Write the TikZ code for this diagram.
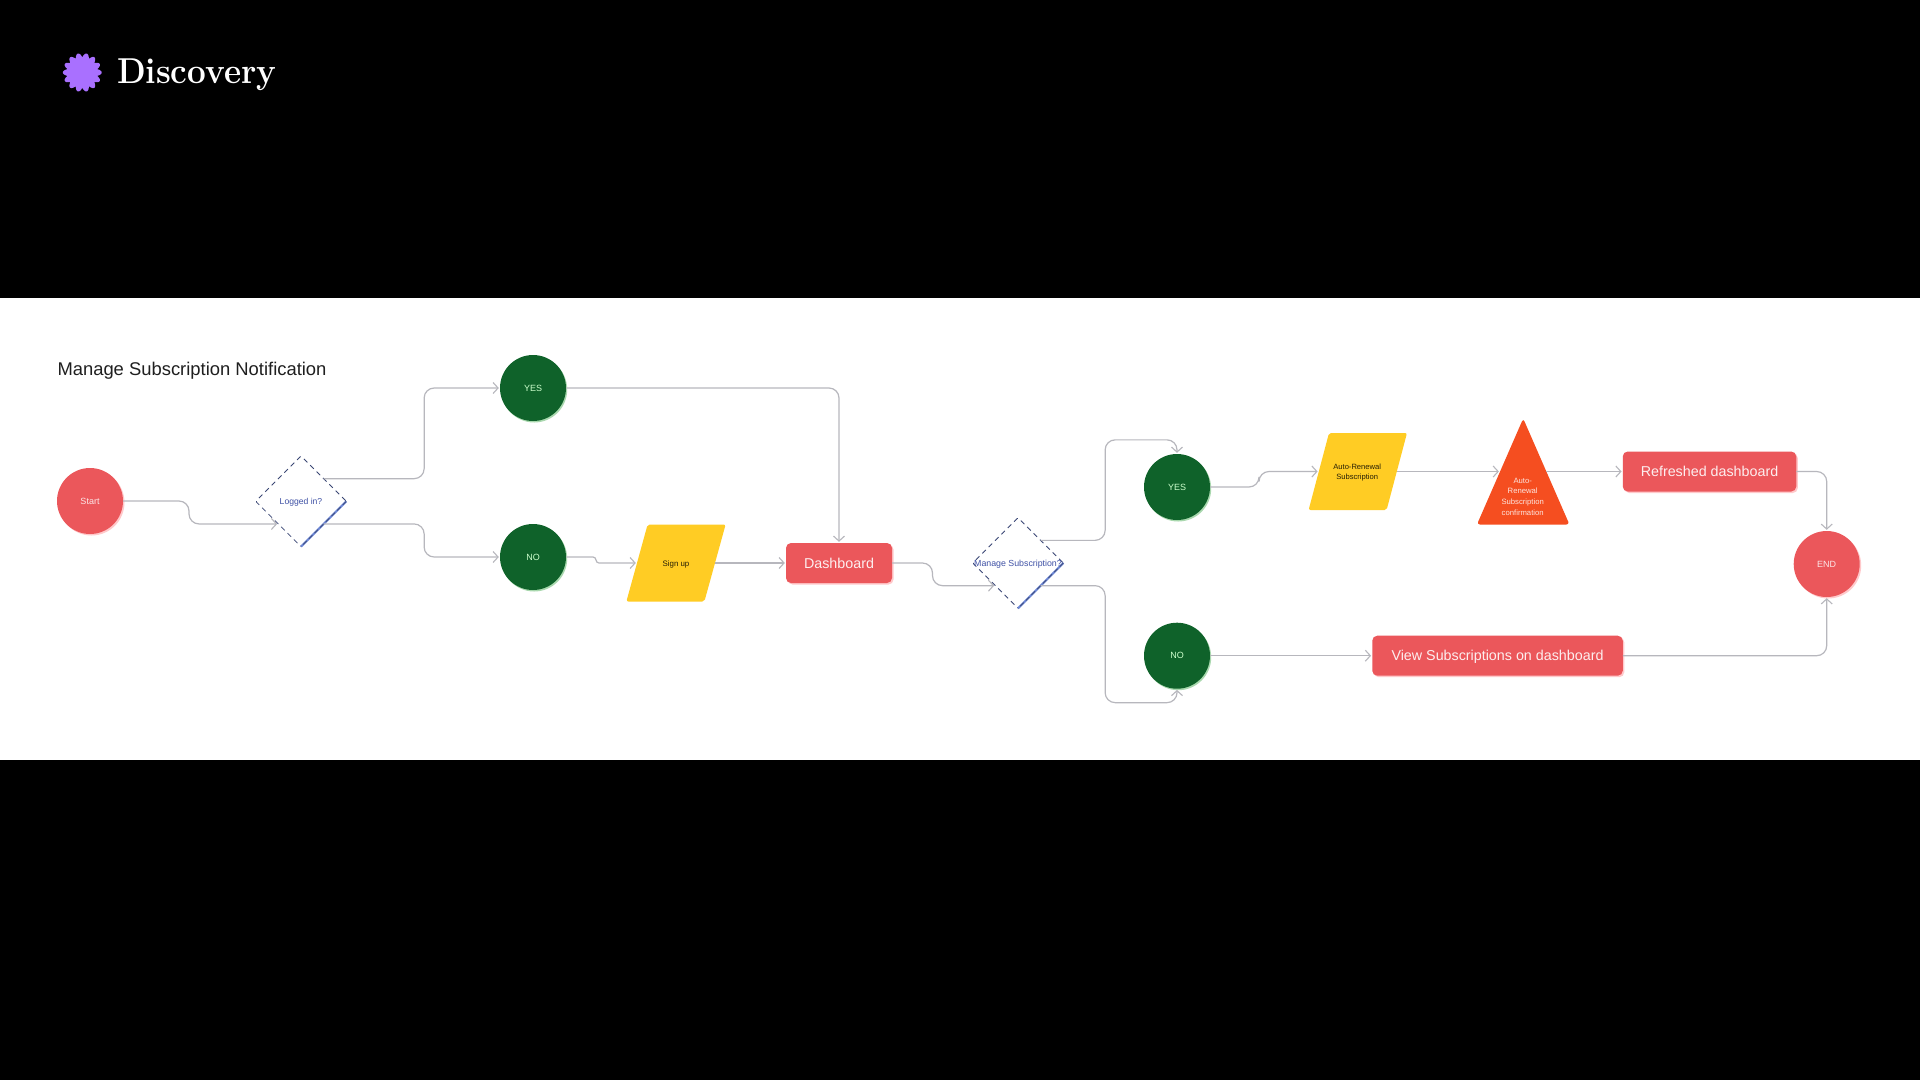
\documentclass[tikz,border=0pt]{standalone}
\usepackage{fontspec}
\setmainfont{Liberation Sans}
\newfontfamily\headfont{Latin Modern Roman}
\usetikzlibrary{shapes.geometric,shadows,arrows.meta}
\definecolor{redbox}{HTML}{EB575B}
\definecolor{redglow}{HTML}{FFC9CB}
\definecolor{greenc}{HTML}{0F622A}
\definecolor{greenglow}{HTML}{A9D8AE}
\definecolor{yellowp}{HTML}{FFCC24}
\definecolor{orangetri}{HTML}{F54E20}
\definecolor{linegray}{HTML}{B7B7BD}
\definecolor{navydash}{HTML}{3A4674}
\definecolor{blueedge}{HTML}{6C86D4}
\definecolor{bluetext}{HTML}{3F51A5}
\definecolor{flower}{HTML}{A970FF}
\tikzset{
  x=1pt,y=-1pt,
  every node/.style={inner sep=0pt,outer sep=0pt,font=\fontsize{9}{10.5}\selectfont,align=center},
  smalltext/.style={text height=6.5pt,text depth=0pt},
  redglowshadow/.style={general shadow={fill=redglow,shadow xshift=1.5pt,shadow yshift=-1.5pt}},
  greenglowshadow/.style={general shadow={fill=greenglow,shadow xshift=1.2pt,shadow yshift=-1.5pt}},
  redcircle/.style={circle,minimum size=66pt,fill=redbox,text=white!85!redbox,redglowshadow,smalltext},
  greencircle/.style={circle,minimum size=66pt,fill=greenc,text=white!80!green,greenglowshadow,smalltext},
  redbutton/.style={rectangle,rounded corners=5pt,minimum height=40pt,fill=redbox,text=white!90!redbox,redglowshadow,font=\fontsize{14.3}{17}\selectfont,text height=10.3pt,text depth=0pt},
  decision/.style={diamond,aspect=1,rounded corners=1pt,minimum width=90.6pt,minimum height=90.6pt,draw=navydash,line width=.8pt,dash pattern=on 5pt off 4pt,text=bluetext,smalltext},
  dashside/.style={draw=navydash,line width=.8pt,dash pattern=on 5pt off 3pt},
  blueside/.style={draw=blueedge,line width=2.2pt},
  parallelo/.style={rectangle,fill=yellowp,rounded corners=2pt,xslant=#1,minimum width=78pt,minimum height=77pt},
  ptext/.style={text=black!85!yellowp},
  conn/.style={draw=linegray,line width=1.2pt,-{Straight Barb[length=5pt,width=11pt,line width=1.1pt]},rounded corners=#1,shorten >=1.2pt},
  conn/.default=10pt
}
\begin{document}
\begin{tikzpicture}
\useasboundingbox (0,0) rectangle (1920,1080);
\fill[black] (0,0) rectangle (1920,1080);
\fill[white] (0,298) rectangle (1920,759.5);

% header
\fill[flower] plot[samples=281,domain=0:360] ({82.3+(15.2+4.2*abs(cos(7*\x)))*cos(\x)},{72.5+(15.2+4.2*abs(cos(7*\x)))*sin(\x)}) -- cycle;
\node[anchor=west,text=white,font=\headfont\bfseries\fontsize{36}{40}\selectfont] (disc) at (117,74.5) {\scalebox{.925}[1]{Discovery}};
\node[anchor=west,text=black!88,font=\fontsize{18.4}{22}\selectfont] (title) at (57.5,370.5) {Manage Subscription Notification};

% nodes
\node[redcircle] (start) at (90,501) {Start};
\node[decision,font=\fontsize{8.6}{10}\selectfont] (logged) at (301,501.3) {\makebox[0pt]{Logged in?}};
\node[greencircle] (yes) at (533,388) {YES};
\node[greencircle] (no) at (533,557) {NO};
\node[parallelo=0.276] (signupbox) at (676,563) {};
\node[ptext,smalltext,font=\fontsize{7.9}{10}\selectfont] (signup) at (676,563) {Sign up};
\node[redbutton,minimum width=106pt] (dash) at (839,563) {Dashboard};
\node[decision,font=\fontsize{8.8}{10}\selectfont] (manage) at (1018,563) {\makebox[0pt]{Manage Subscription?}};
\node[greencircle] (yestwo) at (1177,487) {YES};
\node[greencircle] (notwo) at (1177,655.7) {NO};
\node[parallelo=0.265] (autobox) at (1357.8,471.5) {};
\node[ptext,font=\fontsize{7.6}{10.5}\selectfont] (auto) at (1357.2,472.5) {Auto-Renewal\\Subscription};
\node[isosceles triangle,isosceles triangle stretches,shape border rotate=90,minimum width=92.5pt,minimum height=106pt,fill=orangetri,rounded corners=3pt,anchor=lower side] (tri) at (1523.2,524.5) {};
\node[text=white!85!orangetri,font=\fontsize{7.7}{10.6}\selectfont] (tritext) at (1522.7,496.5) {Auto-\\Renewal\\Subscription\\confirmation};
\node[redbutton,minimum width=173.5pt] (refresh) at (1709.5,471.5) {Refreshed dashboard};
\node[redbutton,minimum width=250.5pt] (view) at (1497.5,655.7) {View Subscriptions on dashboard};
\node[redcircle] (endn) at (1826.7,564) {END};

% lower-right diamond sides
\draw[blueside] (logged.east) -- (logged.south);
\draw[dashside] (logged.east) -- (logged.south);
\draw[blueside] (manage.east) -- (manage.south);
\draw[dashside] (manage.east) -- (manage.south);

% connectors
\draw[conn] (start.east) -- ++(66,0) |- (logged.south west);
\draw[conn] (logged.north east) -- ++(100.5,0) |- (yes.west);
\draw[conn] (logged.south east) -- ++(100.5,0) |- (no.west);
\draw[conn] (yes.east) -| (dash.north);
\draw[conn=3pt] (no.east) -- ++(30,0) |- (signupbox.west);
\draw[conn] (signupbox.east) -- (dash.west);
\draw[conn] (dash.east) -- ++(40.5,0) |- (manage.south west);
\draw[conn] (manage.north east) -- ++(64.5,0) -- ++(0,-100.5) -| (yestwo.north);
\draw[conn] (manage.south east) -- ++(64.5,0) -- ++(0,117) -| (notwo.south);
\draw[conn] (yestwo.east) -- ++(49,0) |- (autobox.west);
\draw[conn] (autobox.east) -- (tri.left side);
\draw[conn] (tri.right side) -- (refresh.west);
\draw[conn] (refresh.east) -| (endn.north);
\draw[conn] (notwo.east) -- (view.west);
\draw[conn] (view.east) -| (endn.south);
\end{tikzpicture}
\end{document}
